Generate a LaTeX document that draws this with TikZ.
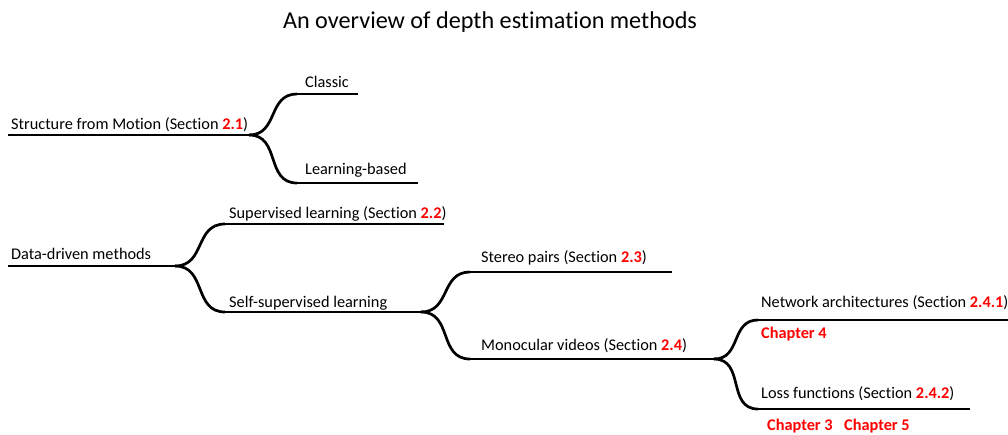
\documentclass[tikz,border=0pt]{standalone}
\usepackage{fontspec}
\setmainfont{Carlito}[Ligatures={NoCommon}]
\newcommand{\secref}[1]{\textcolor{red}{\textbf{#1}}}
\begin{document}
\begin{tikzpicture}[x=1pt,y=-1pt,
  lbl/.style={anchor=base west, inner sep=0pt, font=\fontsize{16.3}{19}\selectfont},
  chap/.style={lbl, text=red, font=\fontsize{16.3}{19}\selectfont\bfseries},
  stem/.style={line width=2.7pt},
  fork/.style={line width=2.7pt, out=0, in=180, looseness=1.2}]
\useasboundingbox (0,0) rectangle (1008,434);

% title
\node[anchor=base, inner sep=0pt, font=\fontsize{24.2}{28}\selectfont] (title) at (490,28) {An overview of depth estimation methods};

% ---- Structure from Motion ----
\coordinate (sfmL) at (8,135);
\coordinate (sfmB) at (249,135);
\coordinate (clsL) at (297,94);
\coordinate (clsR) at (358,94);
\coordinate (lrnL) at (297,183);
\coordinate (lrnR) at (418,183);
\node[lbl] (sfm) at (11,129) {Structure from Motion (Section \secref{2.1})};
\node[lbl] (cls) at (305,87) {Classic};
\node[lbl] (lrn) at (305,174) {Learning-based};
\draw[stem] (sfmL) -- (sfmB);
\draw[fork] (sfmB) to (clsL);
\draw[fork] (sfmB) to (lrnL);
\draw[stem] (clsL) -- (clsR);
\draw[stem] (lrnL) -- (lrnR);

% ---- Data-driven methods ----
\coordinate (ddL) at (8,266);
\coordinate (ddB) at (175,266);
\coordinate (supL) at (225,224);
\coordinate (supR) at (444,224);
\coordinate (ssL) at (225,312);
\coordinate (ssB) at (421,312);
\node[lbl] (dd) at (11,259) {Data-driven methods};
\node[lbl] (sup) at (229,218) {Supervised learning (Section \secref{2.2})};
\node[lbl] (ss) at (229,307) {Self-supervised learning};
\draw[stem] (ddL) -- (ddB);
\draw[fork] (ddB) to (supL);
\draw[fork] (ddB) to (ssL);
\draw[stem] (supL) -- (supR);
\draw[stem] (ssL) -- (ssB);

% ---- self-supervised branches ----
\coordinate (stL) at (470,272);
\coordinate (stR) at (672,272);
\coordinate (moL) at (470,359);
\coordinate (moB) at (714,359);
\node[lbl] (st) at (481,262) {Stereo pairs (Section \secref{2.3})};
\node[lbl] (mo) at (481,350) {Monocular videos (Section \secref{2.4})};
\draw[fork] (ssB) to (stL);
\draw[fork] (ssB) to (moL);
\draw[stem] (stL) -- (stR);
\draw[stem] (moL) -- (moB);

% ---- monocular video branches ----
\coordinate (netL) at (758,320);
\coordinate (netR) at (1008,320);
\coordinate (lossL) at (758,409);
\coordinate (lossR) at (970,409);
\node[lbl] (net) at (761,307) {Network architectures (Section \secref{2.4.1})};
\node[chap] (ch4) at (761,338) {Chapter 4};
\node[lbl] (loss) at (761,398) {Loss functions (Section \secref{2.4.2})};
\node[chap] (ch3) at (767,430) {Chapter 3};
\node[chap] (ch5) at (844,430) {Chapter 5};
\draw[fork] (moB) to (netL);
\draw[fork] (moB) to (lossL);
\draw[stem] (netL) -- (netR);
\draw[stem] (lossL) -- (lossR);
\end{tikzpicture}
\end{document}
